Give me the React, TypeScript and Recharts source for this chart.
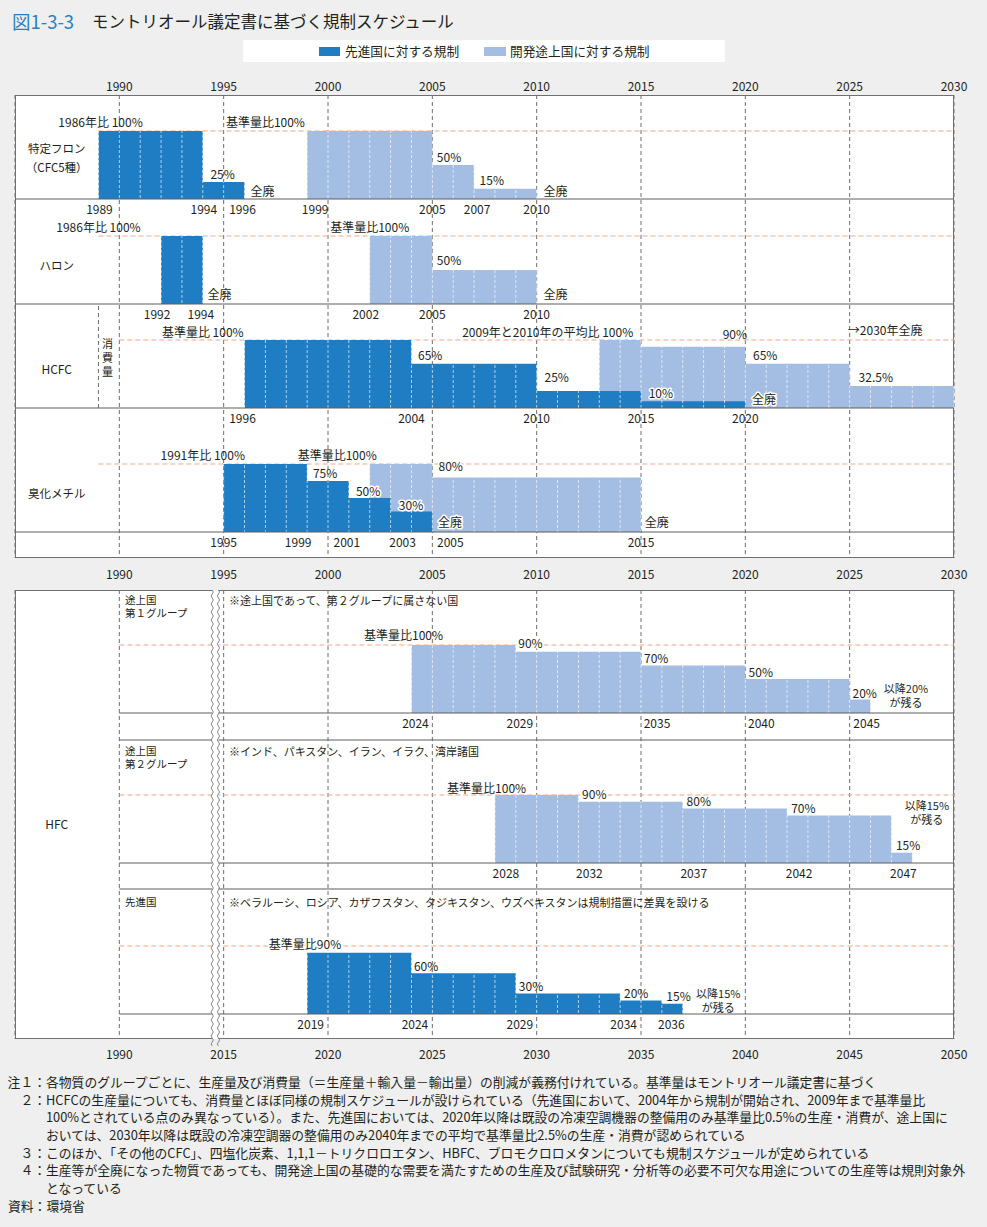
import React from 'react';
import {
  Area,
  CartesianGrid,
  ComposedChart,
  ReferenceArea,
  ReferenceDot,
  ReferenceLine,
  XAxis,
  YAxis,
} from 'recharts';

// colours and type
const DARK = '#1f7dc4';
const LIGHT = '#a3bde3';
const ORANGE = '#f5a683';
const GRID = '#6e6e6e';
const RULE = '#5e5e5e';
const INK = '#231f20';
const PAGE_BG = '#eeefee';
const FONT = "'Noto Sans CJK JP', 'Noto Sans', sans-serif";

// ---------------------------------------------------------------- data
const topTicks = [1990, 1995, 2000, 2005, 2010, 2015, 2020, 2025, 2030];
const hfcTicks = [2010, 2015, 2020, 2025, 2030, 2035, 2040, 2045, 2050];
const hfcTickLabels = ['1990', '2015', '2020', '2025', '2030', '2035', '2040', '2045', '2050'];

type Step = [number, number]; // [start year, % of baseline]
type Schedule = { steps: Step[]; end: number };
type Note = [number, number, string, boolean?]; // [year, %, text, sits on a bar]

const cfcDeveloped: Schedule = { steps: [[1989, 100], [1994, 25]], end: 1996 };
const cfcDeveloping: Schedule = { steps: [[1999, 100], [2005, 50], [2007, 15]], end: 2010 };
const halonDeveloped: Schedule = { steps: [[1992, 100]], end: 1994 };
const halonDeveloping: Schedule = { steps: [[2002, 100], [2005, 50]], end: 2010 };
const hcfcDeveloped: Schedule = { steps: [[1996, 100], [2004, 65], [2010, 25], [2015, 10]], end: 2020 };
const hcfcDeveloping: Schedule = { steps: [[2013, 100], [2015, 90], [2020, 65], [2025, 32.5]], end: 2030 };
const mebrDeveloped: Schedule = { steps: [[1995, 100], [1999, 75], [2001, 50], [2003, 30]], end: 2005 };
const mebrDeveloping: Schedule = { steps: [[2002, 100], [2005, 80]], end: 2015 };
const hfcGroup1: Schedule = { steps: [[2024, 100], [2029, 90], [2035, 70], [2040, 50], [2045, 20]], end: 2046 };
const hfcGroup2: Schedule = { steps: [[2028, 100], [2032, 90], [2037, 80], [2042, 70], [2047, 15]], end: 2048 };
const hfcDevelopedSch: Schedule = { steps: [[2019, 90], [2024, 60], [2029, 30], [2034, 20], [2036, 15]], end: 2037 };

const cfcYears = [1989, 1994, 1996, 1999, 2005, 2007, 2010];
const halonYears = [1992, 1994, 2002, 2005, 2010];
const hcfcYears = [1996, 2004, 2010, 2015, 2020];
const mebrYears = [1995, 1999, 2001, 2003, 2005, 2015];
const g1Years = [2024, 2029, 2035, 2040, 2045];
const g2Years = [2028, 2032, 2037, 2042, 2047];
const devYears = [2019, 2024, 2029, 2034, 2036];

const cfcNotes: Note[] = [
  [1989.1, 114, '1986年比 100%'],
  [1997.0, 114, '基準量比100%'],
  [1994.95, 37, '25%'],
  [1996.86, 13, '全廃'],
  [2005.8, 63, '50%'],
  [2007.85, 28, '15%'],
  [2010.9, 13, '全廃'],
];
const halonNotes: Note[] = [
  [1989.0, 114, '1986年比 100%'],
  [2002.0, 114, '基準量比100%'],
  [2005.8, 65, '50%'],
  [1994.8, 15, '全廃'],
  [2010.9, 15, '全廃'],
];
const hcfcNotes: Note[] = [
  [1994.0, 113, '基準量比 100%'],
  [2004.9, 79, '65%'],
  [2010.53, 113, '2009年と2010年の平均比 100%'],
  [2019.5, 110, '90%'],
  [2026.7, 115, '→2030年全廃'],
  [2010.96, 47, '25%'],
  [2015.95, 23.5, '10%', true],
  [2020.9, 14.7, '全廃', true],
  [2020.95, 79, '65%'],
  [2026.25, 45.6, '32.5%'],
];
const mebrNotes: Note[] = [
  [1994.0, 114, '1991年比 100%'],
  [2000.44, 114, '基準量比100%'],
  [1999.86, 87, '75%'],
  [2001.92, 61, '50%', true],
  [2003.98, 41, '30%', true],
  [2005.88, 97.5, '80%', true],
  [2005.85, 15, '全廃', true],
  [2015.75, 15, '全廃'],
];
const g1Notes: Note[] = [
  [2023.62, 115, '基準量比100%'],
  [2029.7, 103, '90%', true],
  [2035.73, 81, '70%'],
  [2040.74, 61, '50%'],
  [2045.72, 30, '20%'],
];
const g2Notes: Note[] = [
  [2027.6, 111, '基準量比100%'],
  [2032.76, 102.5, '90%', true],
  [2037.77, 91.6, '80%'],
  [2042.78, 81.3, '70%'],
  [2047.8, 27.5, '15%'],
];
const devNotes: Note[] = [
  [2018.9, 103, '基準量比90%', true],
  [2024.7, 71, '60%'],
  [2029.73, 41.6, '30%'],
  [2034.77, 31.4, '20%'],
  [2036.8, 26.5, '15%'],
];
// two-line "remains afterwards" notes: [year, % of upper line, % of lower line, upper text]
const g1Remain: [number, number, number, string] = [2047.7, 37, 16.5, '以降20%'];
const g2Remain: [number, number, number, string] = [2048.7, 86, 65, '以降15%'];
const devRemain: [number, number, number, string] = [2038.7, 31, 11, '以降15%'];

const footNotes = [
  { mark: '注１：', lines: ['各物質のグループごとに、生産量及び消費量（＝生産量＋輸入量－輸出量）の削減が義務付けれている。基準量はモントリオール議定書に基づく'] },
  {
    mark: '２：',
    lines: [
      'HCFCの生産量についても、消費量とほぼ同様の規制スケジュールが設けられている（先進国において、2004年から規制が開始され、2009年まで基準量比',
      '100%とされている点のみ異なっている）。また、先進国においては、2020年以降は既設の冷凍空調機器の整備用のみ基準量比0.5%の生産・消費が、途上国に',
      'おいては、2030年以降は既設の冷凍空調器の整備用のみ2040年までの平均で基準量比2.5%の生産・消費が認められている',
    ],
  },
  { mark: '３：', lines: ['このほか、「その他のCFC」、四塩化炭素、1,1,1－トリクロロエタン、HBFC、ブロモクロロメタンについても規制スケジュールが定められている'] },
  {
    mark: '４：',
    lines: [
      '生産等が全廃になった物質であっても、開発途上国の基礎的な需要を満たすための生産及び試験研究・分析等の必要不可欠な用途についての生産等は規則対象外',
      'となっている',
    ],
  },
];
const sourceNote = '資料：環境省';

// ---------------------------------------------------------------- layout
const PLOT_L = 15;
const PLOT_R = 954;
const YEAR_PX = (PLOT_R - PLOT_L) / 45;
const BAR_H = 68; // px for 100 %
const TOP = { top: 95, bottom: 558 };
const HFC = { top: 590, bottom: 1039 };

// pixel nudges for the year labels under the bars
const yearNudge: Record<string, number> = {
  'cfc:1989': 1, 'cfc:1994': 1, 'cfc:1996': -2, 'cfc:1999': 8, 'cfc:2007': 3,
  'halon:1992': -4, 'halon:1994': -2, 'halon:2002': -4,
  'hcfc:1996': -2,
  'mebr:1999': -9, 'mebr:2001': -2, 'mebr:2003': 12, 'mebr:2005': 18,
  'g1:2024': 4, 'g1:2029': 4, 'g1:2035': 16, 'g1:2040': 16, 'g1:2045': 17,
  'g2:2028': 11, 'g2:2032': 11, 'g2:2037': 11, 'g2:2042': 12, 'g2:2047': 12,
  'dev:2019': 3.5, 'dev:2024': 3.5, 'dev:2029': 4, 'dev:2034': 3.5, 'dev:2036': 9.5,
};

interface Row {
  id: string;
  base: number; // page y of the 0 % line
  refFrom: number; // where the dashed 100 % guide starts
  dark?: Schedule;
  light?: Schedule;
  notes: Note[];
  years: number[];
}

interface Plot {
  key: string;
  xId: string;
  top: number;
  bottom: number;
  from: number;
  to: number;
  ruleFrom: number;
}

const topRows: Row[] = [
  { id: 'cfc', base: 199, refFrom: 1989, dark: cfcDeveloped, light: cfcDeveloping, notes: cfcNotes, years: cfcYears },
  { id: 'halon', base: 304, refFrom: 1989, dark: halonDeveloped, light: halonDeveloping, notes: halonNotes, years: halonYears },
  { id: 'hcfc', base: 408, refFrom: 1990, dark: hcfcDeveloped, light: hcfcDeveloping, notes: hcfcNotes, years: hcfcYears },
  { id: 'mebr', base: 532, refFrom: 1989, dark: mebrDeveloped, light: mebrDeveloping, notes: mebrNotes, years: mebrYears },
];
const hfcRows: Row[] = [
  { id: 'g1', base: 713, refFrom: 2010, light: hfcGroup1, notes: g1Notes, years: g1Years },
  { id: 'g2', base: 863, refFrom: 2010, light: hfcGroup2, notes: g2Notes, years: g2Years },
  { id: 'dev', base: 1014, refFrom: 2010, dark: hfcDevelopedSch, notes: devNotes, years: devYears },
];

const topPlot: Plot = { key: 'top', xId: 'top', top: TOP.top, bottom: TOP.bottom, from: 1985, to: 2030, ruleFrom: 1985 };
const hfcPlot: Plot = { key: 'hfc', xId: 'hfc', top: HFC.top, bottom: HFC.bottom, from: 2005, to: 2050, ruleFrom: 2010 };

const pxToPct = (base: number, y: number) => ((base - y) / BAR_H) * 100;

function rowDomain(base: number, plot: Plot): [number, number] {
  const hi = pxToPct(base, plot.top);
  return [hi - ((plot.bottom - plot.top) / BAR_H) * 100, hi];
}

function toPoints(s: Schedule) {
  const pts = s.steps.map(([x, v]) => ({ x, v }));
  pts.push({ x: s.end, v: s.steps[s.steps.length - 1][1] });
  return pts;
}

function stripes(id: string, color: string) {
  const w = PLOT_R - PLOT_L;
  const marks = [];
  for (let i = 0; i <= 45; i++) {
    marks.push(<rect key={i} x={i * YEAR_PX - 0.45} y={0} width={0.9} height={3} fill="#fff" fillOpacity={0.7} />);
  }
  return (
    <pattern id={id} key={id} patternUnits="userSpaceOnUse" x={PLOT_L} y={0} width={w} height={5}>
      <rect width={w} height={5} fill={color} />
      {marks}
    </pattern>
  );
}

type TextOpts = { size?: number; anchor?: 'start' | 'middle' | 'end'; dx?: number; dy?: number; halo?: boolean };

function textMark(key: string, xId: string, yId: string, x: number, v: number, text: React.ReactNode, o: TextOpts = {}) {
  return (
    <ReferenceDot
      key={key}
      xAxisId={xId}
      yAxisId={yId}
      x={x}
      y={v}
      r={0}
      ifOverflow="visible"
      zIndex={2000}
      shape={(p: any) => (
        <text
          x={p.cx + (o.dx ?? 0)}
          y={p.cy + (o.dy ?? 0)}
          textAnchor={o.anchor ?? 'middle'}
          dominantBaseline="central"
          fontSize={o.size ?? 12}
          fontFamily={FONT}
          fill={INK}
          stroke={o.halo ? '#fff' : 'none'}
          strokeWidth={o.halo ? 3 : 0}
          strokeLinejoin="round"
          paintOrder="stroke"
        >
          {text}
        </text>
      )}
    />
  );
}

function remainNote(key: string, xId: string, yId: string, n: [number, number, number, string]) {
  const [x, vUp, vLow, text] = n;
  return [
    textMark(`${key}-a`, xId, yId, x, vUp, text, { size: 11 }),
    textMark(`${key}-b`, xId, yId, x, vLow, 'が残る', { size: 11 }),
  ];
}

function rowAxis(r: Row, plot: Plot) {
  return <YAxis key={`y-${r.id}`} yAxisId={r.id} type="number" hide allowDataOverflow domain={rowDomain(r.base, plot)} />;
}

function rowGuide(r: Row, plot: Plot) {
  return (
    <ReferenceLine
      key={`g-${r.id}`}
      xAxisId={plot.xId}
      yAxisId={r.id}
      segment={[{ x: r.refFrom, y: 100 }, { x: plot.to, y: 100 }]}
      stroke={ORANGE}
      strokeWidth={1.2}
      strokeDasharray="5 3"
      ifOverflow="visible"
      zIndex={50}
    />
  );
}

function rowAreas(r: Row, plot: Plot) {
  const out = [];
  for (const which of ['light', 'dark'] as const) {
    const s = r[which];
    if (!s) continue;
    out.push(
      <Area
        key={`a-${r.id}-${which}`}
        xAxisId={plot.xId}
        yAxisId={r.id}
        data={toPoints(s)}
        dataKey="v"
        type="stepAfter"
        baseValue={0}
        stroke="none"
        fill={`url(#${plot.key}-${which})`}
        fillOpacity={1}
        dot={false}
        activeDot={false}
        legendType="none"
        isAnimationActive={false}
      />,
    );
  }
  return out;
}

function ruleAt(key: string, yId: string, v: number, plot: Plot) {
  return (
    <ReferenceLine
      key={key}
      xAxisId={plot.xId}
      yAxisId={yId}
      segment={[{ x: plot.ruleFrom, y: v }, { x: plot.to, y: v }]}
      stroke={RULE}
      strokeWidth={1.2}
      ifOverflow="visible"
      zIndex={150}
    />
  );
}

function rowTexts(r: Row, plot: Plot) {
  const out = r.notes.map(([x, v, t, onBar], i) => textMark(`n-${r.id}-${i}`, plot.xId, r.id, x, v, t, { halo: !!onBar }));
  r.years.forEach((yr) =>
    out.push(textMark(`yr-${r.id}-${yr}`, plot.xId, r.id, yr, 0, String(yr), { dy: 9.5, dx: yearNudge[`${r.id}:${yr}`] ?? 0 })),
  );
  return out;
}

const YearTick = (labels?: Record<number, string>) => (p: any) => (
  <text x={p.x} y={p.y} textAnchor="middle" dominantBaseline="central" fontSize={12} fontFamily={FONT} fill={INK}>
    {labels ? labels[p.payload.value] : p.payload.value}
  </text>
);

const hfcLabelMap: Record<number, string> = Object.fromEntries(hfcTicks.map((t, i) => [t, hfcTickLabels[i]]));

const BreakMark = (p: any) => {
  const { x, y, width, height } = p;
  const wave = (x0: number) => {
    let d = `M${x0},${y}`;
    for (let k = 0; k < height; k += 8) d += ' q2.2,2 0,4 q-2.2,2 0,4';
    return d;
  };
  return (
    <g>
      <rect x={x} y={y} width={width} height={height} fill="#fff" />
      <path d={wave(x)} fill="none" stroke="#7a7a7a" strokeWidth={0.9} />
      <path d={wave(x + width)} fill="none" stroke="#7a7a7a" strokeWidth={0.9} />
    </g>
  );
};

function TopChart() {
  const plot = topPlot;
  const consX = PLOT_L + (1989.43 - 1985) * YEAR_PX;
  return (
    <ComposedChart width={987} height={515} margin={{ top: 0, right: 987 - PLOT_R, bottom: 0, left: PLOT_L }}>
      <defs>
        {stripes('top-dark', DARK)}
        {stripes('top-light', LIGHT)}
      </defs>
      <XAxis
        xAxisId="top"
        orientation="top"
        dataKey="x"
        type="number"
        domain={[plot.from, plot.to]}
        ticks={topTicks}
        interval={0}
        allowDataOverflow
        height={25}
        axisLine={false}
        tickLine={false}
        tickSize={0}
        tickMargin={10}
        tick={YearTick()}
      />
      <XAxis
        xAxisId="bottom"
        orientation="bottom"
        dataKey="x"
        type="number"
        domain={[plot.from, plot.to]}
        ticks={topTicks}
        interval={0}
        allowDataOverflow
        height={27}
        axisLine={false}
        tickLine={false}
        tickSize={0}
        tickMargin={15}
        tick={YearTick()}
      />
      {topRows.map((r) => rowAxis(r, plot))}
      <CartesianGrid xAxisId="top" yAxisId="cfc" horizontal={false} stroke={GRID} strokeDasharray="4 3" />
      {topRows.map((r) => rowGuide(r, plot))}
      {topRows.flatMap((r) => rowAreas(r, plot))}
      {topRows.map((r) => ruleAt(`r-${r.id}`, r.id, 0, plot))}
      <ReferenceLine
        xAxisId="top"
        yAxisId="hcfc"
        segment={[{ x: 1989, y: 0 }, { x: 1989, y: pxToPct(408, 304) }]}
        stroke={GRID}
        strokeDasharray="4 3"
        ifOverflow="visible"
        zIndex={150}
      />
      {topRows.flatMap((r) => rowTexts(r, plot))}
      {textMark('t-cfc1', 'top', 'cfc', 1987.0, 75, '特定フロン', { size: 11.5 })}
      {textMark('t-cfc2', 'top', 'cfc', 1987.0, 47.5, '（CFC5種）', { size: 11.5 })}
      {textMark('t-halon', 'top', 'halon', 1987.0, 57.4, 'ハロン', { size: 11.5 })}
      {textMark('t-hcfc', 'top', 'hcfc', 1987.0, 57.4, 'HCFC', { size: 12 })}
      {textMark('t-mebr', 'top', 'mebr', 1987.0, 57.4, '臭化メチル', { size: 11.5 })}
      {textMark(
        't-cons',
        'top',
        'hcfc',
        1989.43,
        75,
        <>
          <tspan dy={-14}>消</tspan>
          <tspan x={consX} dy={14}>費</tspan>
          <tspan x={consX} dy={14}>量</tspan>
        </>,
        { size: 11 },
      )}
    </ComposedChart>
  );
}

function HfcChart() {
  const plot = hfcPlot;
  const side = { size: 11, anchor: 'start' as const };
  const group = { size: 10.5, anchor: 'start' as const };
  return (
    <ComposedChart width={987} height={HFC.bottom - HFC.top + 30} margin={{ top: 0, right: 987 - PLOT_R, bottom: 0, left: PLOT_L }}>
      <defs>
        {stripes('hfc-dark', DARK)}
        {stripes('hfc-light', LIGHT)}
      </defs>
      <XAxis
        xAxisId="hfc"
        orientation="bottom"
        dataKey="x"
        type="number"
        domain={[plot.from, plot.to]}
        ticks={hfcTicks}
        interval={0}
        allowDataOverflow
        height={30}
        axisLine={false}
        tickLine={false}
        tickSize={0}
        tickMargin={14}
        tick={YearTick(hfcLabelMap)}
      />
      {hfcRows.map((r) => rowAxis(r, plot))}
      <CartesianGrid xAxisId="hfc" yAxisId="g1" horizontal={false} stroke={GRID} strokeDasharray="4 3" />
      {hfcRows.map((r) => rowGuide(r, plot))}
      {hfcRows.flatMap((r) => rowAreas(r, plot))}
      {hfcRows.map((r) => ruleAt(`r-${r.id}`, r.id, 0, plot))}
      {ruleAt('r-g1-end', 'g1', pxToPct(713, 740), plot)}
      {ruleAt('r-g2-end', 'g2', pxToPct(863, 889), plot)}
      <ReferenceArea xAxisId="hfc" yAxisId="g1" x1={2014.45} x2={2014.75} ifOverflow="visible" zIndex={500} shape={BreakMark} />
      {hfcRows.flatMap((r) => rowTexts(r, plot))}
      {remainNote('rm-g1', 'hfc', 'g1', g1Remain)}
      {remainNote('rm-g2', 'hfc', 'g2', g2Remain)}
      {remainNote('rm-dev', 'hfc', 'dev', devRemain)}
      {textMark('s-g1a', 'hfc', 'g1', 2010.27, 167, '途上国', group)}
      {textMark('s-g1b', 'hfc', 'g1', 2010.27, 147.5, '第１グループ', group)}
      {textMark('s-g1c', 'hfc', 'g1', 2015.26, 166, '※途上国であって、第２グループに属さない国', side)}
      {textMark('s-g2a', 'hfc', 'g2', 2010.27, 166, '途上国', group)}
      {textMark('s-g2b', 'hfc', 'g2', 2010.27, 146.5, '第２グループ', group)}
      {textMark('s-g2c', 'hfc', 'g2', 2015.26, 165, '※インド、パキスタン、イラン、イラク、湾岸諸国', side)}
      {textMark('s-deva', 'hfc', 'dev', 2010.27, 165, '先進国', group)}
      {textMark('s-devc', 'hfc', 'dev', 2015.26, 165, '※ベラルーシ、ロシア、カザフスタン、タジキスタン、ウズベキスタンは規制措置に差異を設ける', side)}
      {textMark('s-hfc', 'hfc', 'g2', 2007.0, 57.4, 'HFC', { size: 12 })}
    </ComposedChart>
  );
}

const panelBox = (p: { top: number; bottom: number }): React.CSSProperties => ({
  position: 'absolute',
  left: PLOT_L,
  top: p.top,
  width: PLOT_R - PLOT_L,
  height: p.bottom - p.top,
  background: '#fff',
  border: '1px solid #707070',
  boxSizing: 'border-box',
});

export default function App() {
  const lines: { mark?: string; text: string }[] = [];
  footNotes.forEach((n) => n.lines.forEach((t, i) => lines.push({ mark: i === 0 ? n.mark : undefined, text: t })));
  return (
    <div
      style={{
        position: 'absolute',
        left: 0,
        top: 0,
        width: 987,
        height: 1227,
        background: PAGE_BG,
        fontFamily: FONT,
        color: INK,
        overflow: 'hidden',
      }}
    >
      <div style={{ position: 'absolute', left: 12, top: 9, lineHeight: '24px', whiteSpace: 'nowrap' }}>
        <span style={{ color: '#2a7fc4', fontSize: 18.5 }}>図1-3-3</span>
        <span style={{ position: 'absolute', left: 80, fontSize: 16.5 }}>モントリオール議定書に基づく規制スケジュール</span>
      </div>

      <div style={{ position: 'absolute', left: 243, top: 40, width: 482, height: 22, background: '#fff' }}>
        <div style={{ position: 'absolute', left: 76, top: 7, width: 21, height: 9, background: DARK }} />
        <div style={{ position: 'absolute', left: 102, top: 0, lineHeight: '22px', fontSize: 12.7, whiteSpace: 'nowrap' }}>
          先進国に対する規制
        </div>
        <div style={{ position: 'absolute', left: 241, top: 7, width: 22, height: 9, background: LIGHT }} />
        <div style={{ position: 'absolute', left: 267, top: 0, lineHeight: '22px', fontSize: 12.7, whiteSpace: 'nowrap' }}>
          開発途上国に対する規制
        </div>
      </div>

      <div style={panelBox(TOP)} />
      <div style={{ position: 'absolute', left: 0, top: TOP.top - 25 }}>
        <TopChart />
      </div>

      <div style={panelBox(HFC)} />
      <div style={{ position: 'absolute', left: 0, top: HFC.top }}>
        <HfcChart />
      </div>

      <div style={{ position: 'absolute', left: 0, top: 1073, fontSize: 12.8, lineHeight: '17.7px' }}>
        {lines.map((l, i) => (
          <div key={i} style={{ position: 'relative', height: 17.7, whiteSpace: 'nowrap' }}>
            {l.mark && <span style={{ position: 'absolute', left: 6, width: 40, textAlign: 'right' }}>{l.mark}</span>}
            <span style={{ position: 'absolute', left: 46 }}>{l.text}</span>
          </div>
        ))}
        <div style={{ position: 'relative', height: 17.7, whiteSpace: 'nowrap' }}>
          <span style={{ position: 'absolute', left: 8 }}>{sourceNote}</span>
        </div>
      </div>
    </div>
  );
}
